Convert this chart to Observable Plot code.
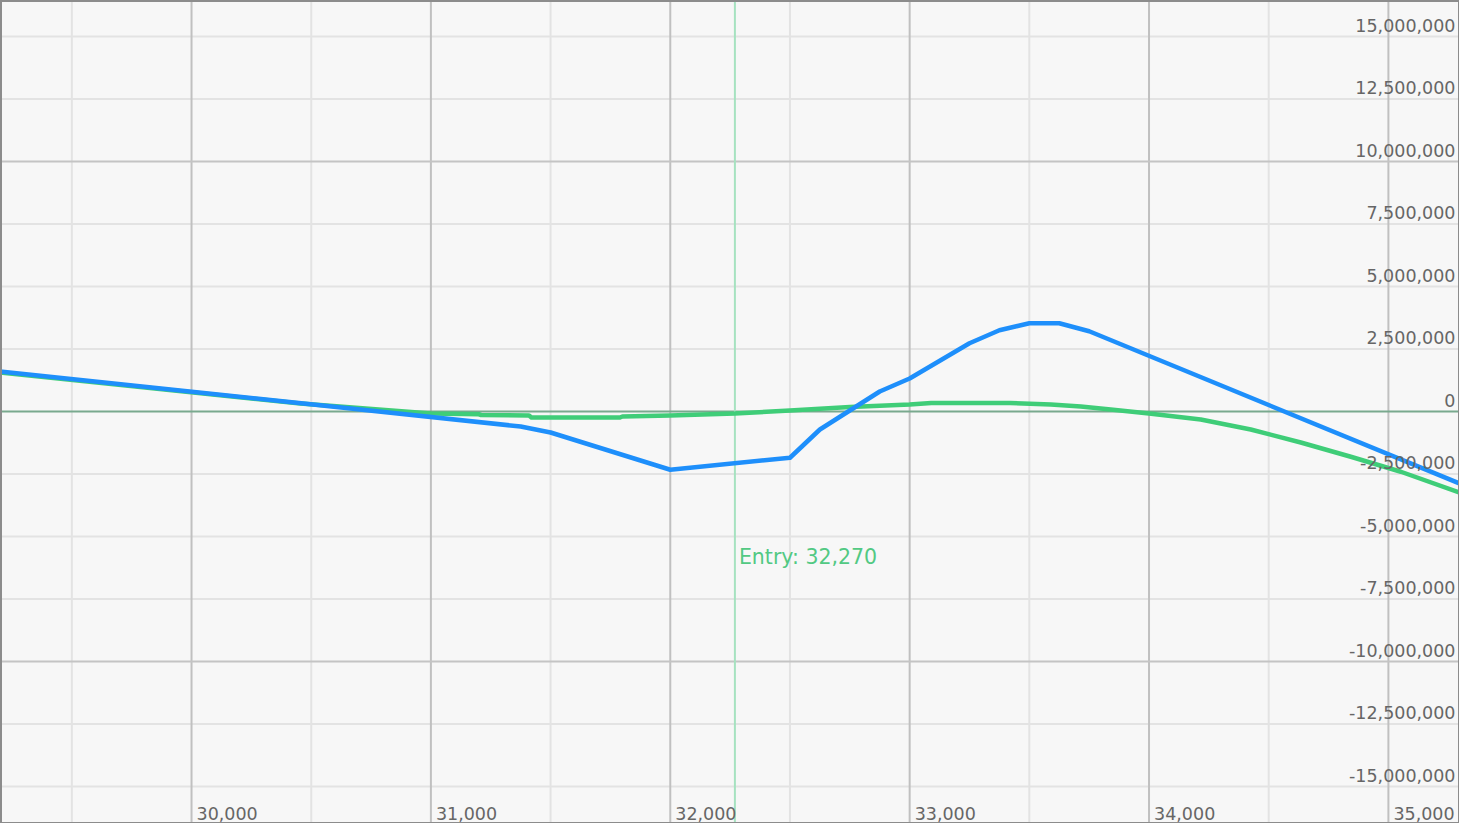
<!DOCTYPE html>
<html>
<head>
<meta charset="utf-8">
<script src="https://cdn.jsdelivr.net/npm/d3@7"></script>
<script src="https://cdn.jsdelivr.net/npm/@observablehq/plot@0.6"></script>
<style>
  html, body { margin: 0; padding: 0; background: #f7f7f7; overflow: hidden; }
  #chart svg { display: block; }
</style>
</head>
<body>
<div id="chart"></div>
<script>
// ---- data ----
const blueX = [29200, 31375, 31500, 32000, 32500, 32625, 32875, 33000, 33250, 33375, 33500, 33625, 33750, 35300];
const blueY = [1605000, -600000, -840000, -2330000, -1850000, -720000, 800000, 1320000, 2730000, 3250000, 3530000, 3530000, 3210000, -2890000];

const greenX = [29200, 30455, 31000, 31200, 31210, 31410, 31420, 31790, 31800, 32000, 32270, 32500, 32750, 33000, 33090, 33420, 33590, 33715, 33840, 34000, 34216, 34425, 34634, 34843, 35052, 35300];
const greenY = [1565000, 320000, -80000, -110000, -140000, -160000, -240000, -240000, -200000, -160000, -80000, 40000, 180000, 280000, 340000, 340000, 280000, 200000, 80000, -80000, -320000, -720000, -1240000, -1810000, -2410000, -3250000];

const entryPrice = 32270;
const entryLabel = "Entry: 32,270";

const xMajorTicks = [30000, 31000, 32000, 33000, 34000, 35000];
const xMinorTicks = [29500, 30500, 31500, 32500, 33500, 34500];
const yTicks = [15000000, 12500000, 10000000, 7500000, 5000000, 2500000, 0, -2500000, -5000000, -7500000, -10000000, -12500000, -15000000];
const yMajorGrid = [10000000, -10000000];
const yMinorGrid = [15000000, 12500000, 7500000, 5000000, 2500000, -2500000, -5000000, -7500000, -12500000, -15000000];

// ---- build tables ----
const blue = blueX.map((x, i) => ({x, y: blueY[i]}));
const green = greenX.map((x, i) => ({x, y: greenY[i]}));
const fmt = d3.format(",");

const W = 1459, H = 823;

const chart = Plot.plot({
  width: W,
  height: H,
  margin: 0,
  x: {domain: [29202, 35297], axis: null},
  y: {domain: [-16480000, 16440000], axis: null},
  style: {background: "#f7f7f7", fontFamily: "DejaVu Sans, Verdana, sans-serif"},
  marks: [
    Plot.ruleX(xMinorTicks, {stroke: "#e3e3e3", strokeWidth: 2}),
    Plot.ruleY(yMinorGrid, {stroke: "#e3e3e3", strokeWidth: 2}),
    Plot.ruleX(xMajorTicks, {stroke: "#c0c0c0", strokeWidth: 2}),
    Plot.ruleY(yMajorGrid, {stroke: "#c4c4c4", strokeWidth: 2}),
    Plot.ruleY([0], {stroke: "#79a98e", strokeWidth: 2}),
    Plot.ruleX([entryPrice], {stroke: "#a6e2c0", strokeWidth: 2}),
    Plot.line(green, {x: "x", y: "y", stroke: "#3fcd78", strokeWidth: 4.5, curve: "linear"}),
    Plot.line(blue, {x: "x", y: "y", stroke: "#1e8ffb", strokeWidth: 4.5, curve: "linear"}),
    Plot.text(yTicks, {
      x: 35297, y: d => d, text: d => fmt(d).replace("−", "-"),
      textAnchor: "end", lineAnchor: "bottom", dx: -4, dy: -5,
      fill: "#666", fontSize: 17.5
    }),
    Plot.text(xMajorTicks, {
      x: d => d, y: -16480000, text: d => fmt(d),
      textAnchor: "start", lineAnchor: "bottom", dx: 5, dy: -4,
      fill: "#666", fontSize: 17.5
    }),
    Plot.text([entryLabel], {
      x: entryPrice, y: -5850000, text: d => d,
      textAnchor: "start", lineAnchor: "middle", dx: 4,
      fill: "#52c983", fontSize: 20.5
    }),
    Plot.frame({stroke: "#8c8c8c", strokeWidth: 3})
  ]
});
document.getElementById("chart").appendChild(chart);
</script>
</body>
</html>
